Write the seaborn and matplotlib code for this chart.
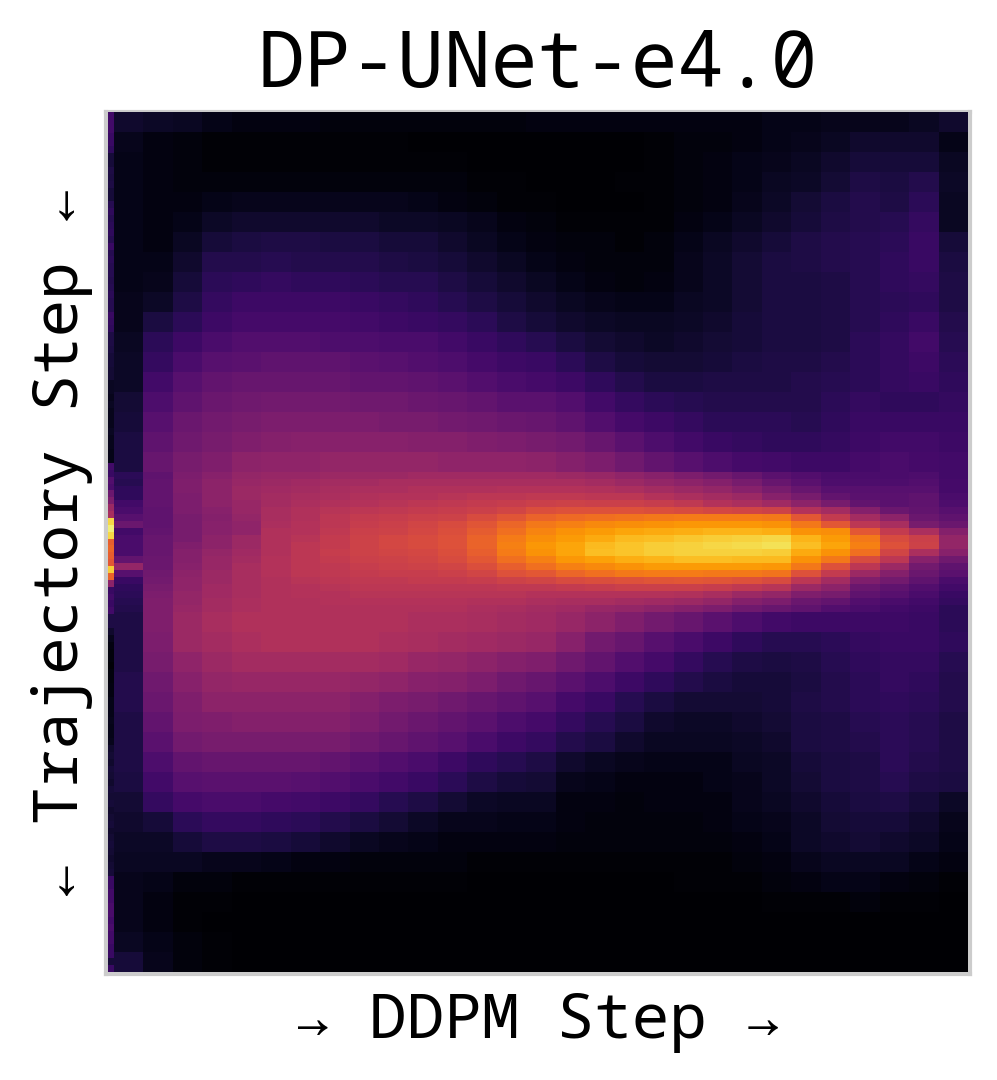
import matplotlib
matplotlib.use("Agg")
import matplotlib.pyplot as plt
import matplotlib.font_manager as fm
import numpy as np
import seaborn as sns

title = "DP-UNet-e4.0"
x_label = "→ DDPM Step →"
y_label = "← Trajectory Step ←"

upper_rows = [
[8,7,6,4,3,3,3,2,2,2,2,2,2,2,3,3,3,3,3,3,3,3,4,4,5,5,5,6,8],
[5,3,2,1,1,1,1,1,1,1,0,0,0,0,0,0,0,0,1,2,2,3,4,5,6,8,8,8,4],
[4,3,2,1,1,1,1,1,1,1,1,1,0,0,0,0,0,0,1,2,3,4,5,6,8,10,10,10,6],
[4,3,2,2,2,2,2,2,2,2,2,2,1,1,0,0,0,1,1,2,3,4,6,7,9,12,11,13,7],
[4,3,3,4,5,5,5,5,5,5,4,3,2,1,1,0,0,0,1,2,3,5,7,9,11,13,12,15,6],
[4,3,4,7,8,8,8,8,8,7,7,6,5,3,2,1,1,1,1,3,4,6,8,10,12,13,14,17,6],
[4,3,6,10,11,12,12,11,11,10,10,8,6,4,3,2,2,1,2,4,6,8,10,12,13,14,15,18,10],
[4,4,8,13,13,14,13,13,13,12,11,10,8,6,4,3,2,2,2,5,7,9,11,12,13,14,16,18,11],
[4,5,10,15,16,17,16,16,15,14,14,12,10,8,6,4,3,2,3,5,7,9,11,11,12,14,16,17,12],
[5,7,12,17,19,19,19,19,18,17,16,14,12,10,8,6,5,4,4,6,7,9,11,11,12,14,15,16,12],
[5,11,15,19,21,21,21,21,20,19,18,17,15,12,10,8,7,6,6,7,8,10,11,11,12,14,16,18,13],
[6,15,19,22,24,24,24,23,23,22,22,20,18,16,14,11,9,8,7,8,9,10,11,11,12,15,17,20,14],
[7,17,22,25,26,27,27,27,26,25,24,23,21,19,18,15,12,10,9,9,10,11,12,12,13,15,17,19,15],
[7,20,25,28,29,29,29,29,28,28,27,26,24,22,21,19,16,13,11,11,12,12,12,13,14,15,17,18,16],
[9,23,27,30,31,32,32,32,31,31,30,29,28,26,26,24,20,17,15,14,13,13,13,13,15,17,16,16,17],
[10,25,30,32,33,34,34,34,34,33,33,32,31,30,29,27,24,21,19,17,15,15,15,14,16,18,18,18,18],
[11,27,31,33,35,36,37,37,37,37,36,36,35,34,33,32,29,26,23,20,18,17,16,16,17,19,20,20,19],
[11,29,33,35,38,39,39,40,40,40,40,39,39,39,38,36,34,31,28,25,23,21,20,19,19,21,22,21,20],
]

band_rows = [
[15,27,34,37,40,41,41,42,42,42,43,43,43,43,43,42,41,39,37,34,32,29,26,24,22,22,22,23,20],
[14,28,35,38,41,42,43,44,44,45,45,45,45,45,45,45,44,42,40,38,36,33,29,26,23,23,23,24,21],
[16,28,35,38,42,43,44,45,46,46,47,47,47,48,48,48,47,46,44,42,40,37,33,29,25,25,25,25,21],
[16,28,34,38,42,44,45,46,47,48,48,49,50,50,51,51,50,50,48,46,44,42,37,33,28,26,26,27,22],
[20,28,34,38,41,44,46,47,48,49,50,51,52,53,54,55,54,54,53,51,48,46,43,38,33,28,26,27,23],
[22,27,34,37,41,45,47,49,50,51,52,53,54,56,59,60,60,60,59,58,57,56,55,48,44,36,30,28,25],
[25,27,33,36,40,45,47,50,52,53,54,55,58,61,65,67,68,69,70,71,71,71,70,62,52,44,38,30,27],
[30,27,33,37,39,46,48,50,53,54,56,58,61,66,70,72,74,75,76,77,77,77,76,70,62,50,45,33,30],
[20,28,33,37,39,47,48,51,54,55,57,59,63,68,73,76,78,80,81,82,83,83,82,76,75,62,52,46,36],
[22,29,33,38,42,47,49,52,55,57,58,60,65,71,75,78,81,84,85,87,88,89,90,83,78,70,58,54,40],
[22,29,35,38,42,47,50,52,55,57,58,60,65,72,77,80,84,86,88,89,90,91,92,85,80,72,60,55,40],
[22,29,36,40,43,47,50,53,55,56,57,59,64,71,76,80,85,86,88,89,89,89,88,81,76,68,56,46,37],
[28,30,36,41,44,48,50,52,54,55,56,58,62,68,72,77,79,82,83,85,85,84,84,76,70,58,50,37,31],
[40,30,37,41,45,48,50,51,53,54,55,56,59,64,68,72,74,76,78,78,78,78,77,70,60,50,42,32,27],
[25,31,38,42,45,48,50,51,52,53,53,54,56,60,62,66,68,70,71,71,70,70,69,60,52,42,36,30,26],
[18,32,39,42,45,47,49,50,51,51,52,52,53,55,56,58,59,60,61,62,61,60,58,50,44,35,32,27,22],
[16,33,39,43,45,47,48,49,50,50,50,50,50,51,51,52,53,54,54,54,53,51,49,42,38,30,27,24,20],
[15,34,40,43,45,47,48,48,49,49,49,49,49,49,48,48,48,48,48,47,45,42,40,35,33,27,25,22,18],
[14,35,40,44,46,47,47,48,48,48,48,48,47,47,46,45,45,44,43,42,40,36,34,30,28,24,22,20,17],
[13,35,41,44,46,47,47,47,47,47,47,47,46,45,44,43,41,40,38,36,34,31,29,27,24,22,20,19,15],
]

lower_rows = [
[12,35,42,45,47,47,47,47,47,47,46,46,45,44,43,41,38,35,32,29,26,23,20,19,19,19,19,18,15],
[12,34,42,44,46,47,47,47,47,46,45,44,43,42,41,37,32,29,25,22,19,16,14,14,15,17,18,18,16],
[12,33,39,42,44,44,44,44,44,43,41,40,38,36,35,31,28,24,21,17,14,12,11,12,14,16,17,17,14],
[13,31,37,40,41,41,41,41,40,39,37,36,34,31,29,26,23,19,16,13,11,10,10,11,13,15,17,16,13],
[13,30,35,38,38,38,38,38,36,34,33,31,29,27,25,21,18,14,11,9,9,9,10,12,13,15,16,15,13],
[12,28,34,35,36,36,36,36,34,32,30,28,26,23,21,17,14,11,8,7,7,8,9,11,12,14,15,14,12],
[12,26,32,33,33,33,33,33,31,29,27,25,22,19,17,13,11,8,6,6,6,7,8,11,12,13,15,14,12],
[12,23,28,29,29,29,29,28,26,24,22,19,16,14,12,8,6,5,4,4,4,6,7,10,11,12,15,13,12],
[11,20,25,26,26,26,25,24,22,20,18,15,12,10,9,5,4,3,3,3,4,5,7,9,11,12,14,12,11],
[9,17,21,22,22,21,20,19,17,14,12,9,7,6,6,3,3,2,3,3,3,5,6,8,10,11,12,10,7],
[8,10,15,17,17,16,15,13,11,9,7,5,5,4,4,3,2,2,2,2,3,4,5,7,9,10,10,8,5],
[7,7,10,12,12,11,10,8,6,5,4,3,3,3,3,2,2,2,2,2,2,3,4,7,8,9,8,7,4],
[6,6,6,5,5,4,3,3,2,2,2,2,1,1,1,1,1,1,1,1,1,2,3,5,6,6,6,4,3],
[5,4,2,2,1,1,1,1,1,1,1,1,0,0,0,0,0,0,0,1,1,1,2,3,4,4,3,2,1],
[5,3,1,1,0,0,0,0,0,0,0,0,0,0,0,0,0,0,0,0,0,0,1,1,1,2,1,1,0],
[5,3,1,0,0,0,0,0,0,0,0,0,0,0,0,0,0,0,0,0,0,0,0,0,0,0,0,0,0],
[6,4,2,1,0,0,0,0,0,0,0,0,0,0,0,0,0,0,0,0,0,0,0,0,0,0,0,0,0],
[10,5,2,1,0,0,0,0,0,0,0,0,0,0,0,0,0,0,0,0,0,0,0,0,0,0,0,0,0],
]

edge_strip = [
20,20,20,18,18,16,10,10,12,11,12,10,10,14,16,14,15,16,14,18,
14,15,14,14,13,14,15,14,14,18,17,16,12,12,11,10,10,9,9,6,
6,5,6,5,5,5,6,5,5,4,4,20,18,24,22,30,34,42,45,90,
95,90,64,66,64,62,88,65,38,18,20,18,20,12,12,8,5,3,2,2,
1,2,2,3,3,4,4,4,5,4,4,5,8,9,8,10,9,8,10,9,
10,8,9,10,8,9,10,9,8,9,10,18,18,20,20,22,22,20,22,20,
20,18,18,10,18,
]

W, H = 997.0, 1080.0
fig = plt.figure(figsize=(W / 300, H / 300), dpi=300, facecolor="white")


def box(x0, x1, y0, y1):
    return [x0 / W, 1 - y1 / H, (x1 - x0) / W, (y1 - y0) / H]


def draw(values, x0, x1, y0, y1):
    ax = fig.add_axes(box(x0, x1, y0, y1), zorder=2)
    data = np.array(values, dtype=float)
    if data.ndim == 1:
        data = data.reshape(-1, 1)
    sns.heatmap(data, ax=ax, cmap="inferno", vmin=0, vmax=100, cbar=False,
                xticklabels=False, yticklabels=False)
    return ax


frame = fig.add_axes(box(106, 969.5, 112, 974), facecolor="#cccccc", zorder=1)
frame.set_xticks([])
frame.set_yticks([])
for s in frame.spines.values():
    s.set_visible(True)
    s.set_color("#cccccc")
    s.set_linewidth(1.0)

draw(edge_strip, 108, 114, 112, 972)
draw(upper_rows, 114, 968, 112, 472)
draw(band_rows, 114, 968, 472, 612)
draw(lower_rows, 114, 968, 612, 972)

installed = {f.name for f in fm.fontManager.ttflist}
mono = ["Noto Sans Mono", "Liberation Mono"] if "Noto Sans Mono" in installed else ["DejaVu Sans Mono", "Liberation Mono"]
if "Noto Sans Mono CJK SC" in installed and "Noto Sans Mono" not in installed:
    mono = ["Noto Sans Mono CJK SC", "Liberation Mono"]
frame.set_title(title, fontsize=18.7, family=mono, pad=6)
frame.set_xlabel(x_label, fontsize=15, family=mono, labelpad=4)
frame.set_ylabel(y_label, fontsize=15, family=mono, labelpad=3)

fig.savefig("out.png", dpi=300)
